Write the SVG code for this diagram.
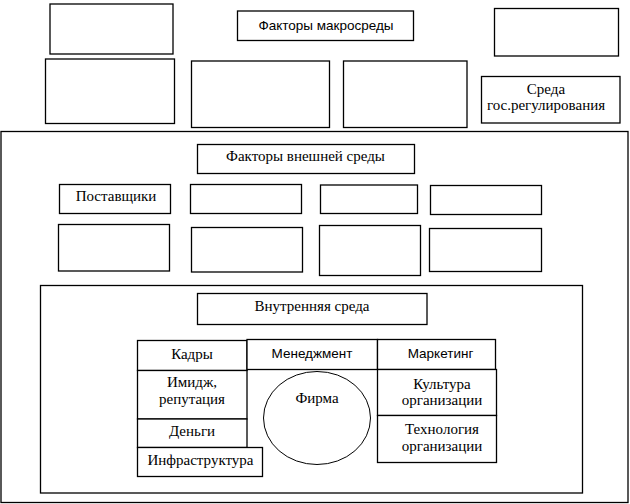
<svg xmlns="http://www.w3.org/2000/svg" width="630" height="504" viewBox="0 0 630 504">
<style>
rect{fill:#fff;stroke:#000;stroke-width:1.3}
ellipse{fill:#fff;stroke:#000;stroke-width:1}
.s{font-family:"Liberation Sans",Arial,sans-serif;font-size:13.5px;text-anchor:middle;fill:#000}
.t{font-family:'Liberation Serif','Times New Roman',serif;font-size:15px;text-anchor:middle;fill:#000}
</style>
<rect width="630" height="504" style="fill:#fff;stroke:none"/>
<g id="macro">
<g id="m1"><rect x="50" y="4" width="123" height="50"/></g>
<g id="m-title"><rect x="237.5" y="11" width="176" height="29.5"/><text class="s" x="326" y="30">Факторы макросреды</text></g>
<g id="m2"><rect x="494.5" y="8.5" width="124" height="47.5"/></g>
<g id="m3"><rect x="45.5" y="59" width="129" height="64.5"/></g>
<g id="m4"><rect x="191.5" y="61" width="138" height="66.5"/></g>
<g id="m5"><rect x="343.5" y="61" width="123.5" height="66.5"/></g>
<g id="gov"><rect x="481.5" y="76.5" width="138.5" height="46.5"/><text class="t" x="546" y="93.5">Среда</text><text class="t" x="546" y="110">гос.регулирования</text></g>
</g>
<g id="external">
<rect x="1" y="131.5" width="627" height="371"/>
<g id="e-title"><rect x="197.5" y="144.5" width="217" height="29"/><text class="t" x="305.5" y="161">Факторы внешней среды</text></g>
<g id="suppliers"><rect x="59.5" y="184.5" width="111" height="29"/><text class="t" x="116" y="201">Поставщики</text></g>
<g id="e2"><rect x="190.5" y="184.5" width="111" height="29"/></g>
<g id="e3"><rect x="320.5" y="185" width="97" height="28.5"/></g>
<g id="e4"><rect x="430.5" y="185.5" width="111" height="29"/></g>
<g id="e5"><rect x="58.5" y="224.5" width="111" height="46.5"/></g>
<g id="e6"><rect x="191.5" y="227.5" width="111" height="44.5"/></g>
<g id="e7"><rect x="319.5" y="225.5" width="101" height="50"/></g>
<g id="e8"><rect x="429.5" y="228.5" width="112" height="43"/></g>
</g>
<g id="internal">
<rect x="40.5" y="285.5" width="542" height="207.5"/>
<g id="i-title"><rect x="197.5" y="293.5" width="229.5" height="31"/><text class="t" x="312" y="311">Внутренняя среда</text></g>
<g id="kadry"><rect x="137.5" y="340.5" width="109.5" height="30"/><text class="t" x="192" y="358.5">Кадры</text></g>
<g id="image"><rect x="137.5" y="370.5" width="109.5" height="48.5"/><text class="t" x="192" y="387">Имидж,</text><text class="t" x="192" y="403.5">репутация</text></g>
<g id="money"><rect x="137.5" y="419" width="109.5" height="28.5"/><text class="t" x="192" y="435.5">Деньги</text></g>
<g id="infra"><rect x="137.5" y="447.5" width="125" height="29"/><text class="t" x="200.5" y="464.5">Инфраструктура</text></g>
<g id="mgmt"><rect x="247" y="339.5" width="130.5" height="30"/><text class="s" x="312" y="357.5">Менеджмент</text></g>
<g id="firm"><ellipse cx="317" cy="418" rx="53.5" ry="46.5"/><text class="t" x="317" y="403">Фирма</text></g>
<g id="marketing"><rect x="377.5" y="339.5" width="118" height="30"/><text class="s" x="440.5" y="357.5">Маркетинг</text></g>
<g id="culture"><rect x="377.5" y="369.5" width="119" height="46"/><text class="t" x="442" y="388.5">Культура</text><text class="t" x="442" y="405">организации</text></g>
<g id="tech"><rect x="377.5" y="415.5" width="119" height="47"/><text class="t" x="442" y="434">Технология</text><text class="t" x="442" y="451">организации</text></g>
</g>
<g id="connectors"></g>
</svg>
